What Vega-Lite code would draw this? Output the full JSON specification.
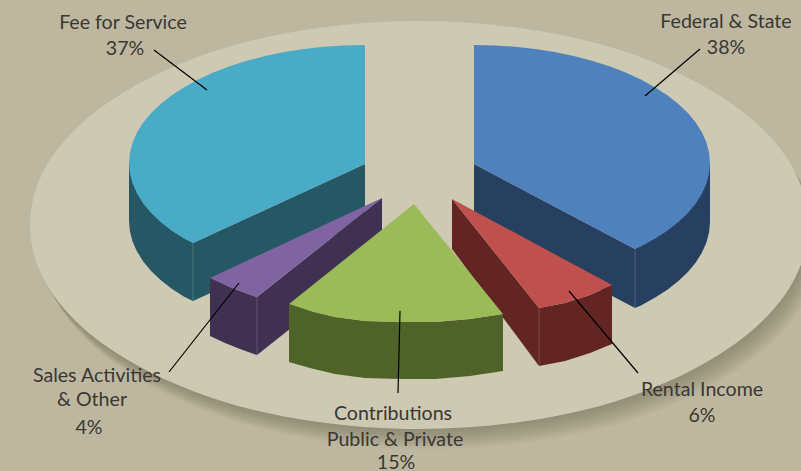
{"$schema":"https://vega.github.io/schema/vega-lite/v6.json","width":801,"height":471,"padding":0,"autosize":{"type":"none"},"background":"#bdb79f","view":{"stroke":null},
"datasets":{
"plate":[{"x":808,"y":225,"s":0},{"x":795,"y":278,"s":1},{"x":756,"y":327,"s":2},{"x":694,"y":369,"s":3},{"x":613.5,"y":402,"s":4},{"x":520,"y":422,"s":5},{"x":419,"y":429,"s":6},{"x":318,"y":422,"s":7},{"x":224.5,"y":402,"s":8},{"x":144,"y":369,"s":9},{"x":82,"y":327,"s":10},{"x":43,"y":278,"s":11},{"x":30,"y":225,"s":12},{"x":43,"y":172,"s":13},{"x":82,"y":123,"s":14},{"x":144,"y":81,"s":15},{"x":224.5,"y":48,"s":16},{"x":318,"y":28,"s":17},{"x":419,"y":21,"s":18},{"x":520,"y":28,"s":19},{"x":613.5,"y":48,"s":20},{"x":694,"y":81,"s":21},{"x":756,"y":123,"s":22},{"x":795,"y":172,"s":23}],
"faces":[
{"f":"federal inner","x":474,"y":164,"s":0},{"f":"federal inner","x":635,"y":249,"s":1},{"f":"federal inner","x":635,"y":308,"s":2},{"f":"federal inner","x":474,"y":223,"s":3},
{"f":"federal side","x":710,"y":163,"s":0},{"f":"federal side","x":710,"y":222,"s":1},{"f":"federal side","x":709.1,"y":232.3,"s":2},{"f":"federal side","x":706.4,"y":242.5,"s":3},{"f":"federal side","x":702,"y":252.5,"s":4},{"f":"federal side","x":695.8,"y":262.4,"s":5},{"f":"federal side","x":687.9,"y":271.9,"s":6},{"f":"federal side","x":678.4,"y":281,"s":7},{"f":"federal side","x":667.3,"y":289.7,"s":8},{"f":"federal side","x":654.8,"y":297.8,"s":9},{"f":"federal side","x":640.9,"y":305.4,"s":10},{"f":"federal side","x":635,"y":308,"s":11},{"f":"federal side","x":635,"y":249,"s":12},
{"f":"federal top","x":474,"y":164,"s":0},{"f":"federal top","x":474,"y":45,"s":1},{"f":"federal top","x":494.6,"y":45.4,"s":2},{"f":"federal top","x":515,"y":46.8,"s":3},{"f":"federal top","x":535.1,"y":49,"s":4},{"f":"federal top","x":554.7,"y":52.1,"s":5},{"f":"federal top","x":573.7,"y":56.1,"s":6},{"f":"federal top","x":592,"y":60.8,"s":7},{"f":"federal top","x":609.4,"y":66.3,"s":8},{"f":"federal top","x":625.7,"y":72.6,"s":9},{"f":"federal top","x":640.9,"y":79.6,"s":10},{"f":"federal top","x":654.8,"y":87.2,"s":11},{"f":"federal top","x":667.3,"y":95.3,"s":12},{"f":"federal top","x":678.4,"y":104,"s":13},{"f":"federal top","x":687.9,"y":113.1,"s":14},{"f":"federal top","x":695.8,"y":122.6,"s":15},{"f":"federal top","x":702,"y":132.5,"s":16},{"f":"federal top","x":706.4,"y":142.5,"s":17},{"f":"federal top","x":709.1,"y":152.7,"s":18},{"f":"federal top","x":710,"y":163,"s":19},{"f":"federal top","x":709.1,"y":173.3,"s":20},{"f":"federal top","x":706.4,"y":183.5,"s":21},{"f":"federal top","x":702,"y":193.5,"s":22},{"f":"federal top","x":695.8,"y":203.4,"s":23},{"f":"federal top","x":687.9,"y":212.9,"s":24},{"f":"federal top","x":678.4,"y":222,"s":25},{"f":"federal top","x":667.3,"y":230.7,"s":26},{"f":"federal top","x":654.8,"y":238.8,"s":27},{"f":"federal top","x":640.9,"y":246.4,"s":28},{"f":"federal top","x":635,"y":249,"s":29},
{"f":"fee inner","x":365,"y":164,"s":0},{"f":"fee inner","x":193,"y":243,"s":1},{"f":"fee inner","x":193,"y":301,"s":2},{"f":"fee inner","x":365,"y":222,"s":3},
{"f":"fee side","x":129,"y":163,"s":0},{"f":"fee side","x":129,"y":221,"s":1},{"f":"fee side","x":129.9,"y":231.3,"s":2},{"f":"fee side","x":132.6,"y":241.5,"s":3},{"f":"fee side","x":137,"y":251.5,"s":4},{"f":"fee side","x":143.2,"y":261.4,"s":5},{"f":"fee side","x":151.1,"y":270.9,"s":6},{"f":"fee side","x":160.6,"y":280,"s":7},{"f":"fee side","x":171.7,"y":288.7,"s":8},{"f":"fee side","x":184.2,"y":296.8,"s":9},{"f":"fee side","x":193,"y":301,"s":10},{"f":"fee side","x":193,"y":243,"s":11},
{"f":"fee top","x":365,"y":164,"s":0},{"f":"fee top","x":365,"y":45,"s":1},{"f":"fee top","x":344.4,"y":45.4,"s":2},{"f":"fee top","x":324,"y":46.8,"s":3},{"f":"fee top","x":303.9,"y":49,"s":4},{"f":"fee top","x":284.3,"y":52.1,"s":5},{"f":"fee top","x":265.3,"y":56.1,"s":6},{"f":"fee top","x":247,"y":60.8,"s":7},{"f":"fee top","x":229.6,"y":66.3,"s":8},{"f":"fee top","x":213.3,"y":72.6,"s":9},{"f":"fee top","x":198.1,"y":79.6,"s":10},{"f":"fee top","x":184.2,"y":87.2,"s":11},{"f":"fee top","x":171.7,"y":95.3,"s":12},{"f":"fee top","x":160.6,"y":104,"s":13},{"f":"fee top","x":151.1,"y":113.1,"s":14},{"f":"fee top","x":143.2,"y":122.6,"s":15},{"f":"fee top","x":137,"y":132.5,"s":16},{"f":"fee top","x":132.6,"y":142.5,"s":17},{"f":"fee top","x":129.9,"y":152.7,"s":18},{"f":"fee top","x":129,"y":163,"s":19},{"f":"fee top","x":129.9,"y":173.3,"s":20},{"f":"fee top","x":132.6,"y":183.5,"s":21},{"f":"fee top","x":137,"y":193.5,"s":22},{"f":"fee top","x":143.2,"y":203.4,"s":23},{"f":"fee top","x":151.1,"y":212.9,"s":24},{"f":"fee top","x":160.6,"y":222,"s":25},{"f":"fee top","x":171.7,"y":230.7,"s":26},{"f":"fee top","x":184.2,"y":238.8,"s":27},{"f":"fee top","x":193,"y":243,"s":28},
{"f":"sales inner","x":382,"y":198,"s":0},{"f":"sales inner","x":257,"y":297,"s":1},{"f":"sales inner","x":257,"y":355,"s":2},{"f":"sales inner","x":382,"y":256,"s":3},
{"f":"sales front","x":210,"y":278,"s":0},{"f":"sales front","x":225,"y":285,"s":1},{"f":"sales front","x":240,"y":291,"s":2},{"f":"sales front","x":257,"y":297,"s":3},{"f":"sales front","x":257,"y":355,"s":4},{"f":"sales front","x":240,"y":349,"s":5},{"f":"sales front","x":225,"y":343,"s":6},{"f":"sales front","x":210,"y":336,"s":7},
{"f":"sales top","x":382,"y":198,"s":0},{"f":"sales top","x":210,"y":278,"s":1},{"f":"sales top","x":225,"y":285,"s":2},{"f":"sales top","x":240,"y":291,"s":3},{"f":"sales top","x":257,"y":297,"s":4},
{"f":"rental inner","x":452,"y":199,"s":0},{"f":"rental inner","x":539,"y":308,"s":1},{"f":"rental inner","x":539,"y":366,"s":2},{"f":"rental inner","x":452,"y":249,"s":3},
{"f":"rental front","x":539,"y":308,"s":0},{"f":"rental front","x":565,"y":303,"s":1},{"f":"rental front","x":590,"y":295,"s":2},{"f":"rental front","x":612,"y":285,"s":3},{"f":"rental front","x":612,"y":344,"s":4},{"f":"rental front","x":590,"y":353,"s":5},{"f":"rental front","x":565,"y":361,"s":6},{"f":"rental front","x":539,"y":366,"s":7},
{"f":"rental top","x":452,"y":199,"s":0},{"f":"rental top","x":612,"y":285,"s":1},{"f":"rental top","x":590,"y":295,"s":2},{"f":"rental top","x":565,"y":303,"s":3},{"f":"rental top","x":539,"y":308,"s":4},
{"f":"contrib front","x":289,"y":304,"s":0},{"f":"contrib front","x":310,"y":311,"s":1},{"f":"contrib front","x":335,"y":317,"s":2},{"f":"contrib front","x":365,"y":321,"s":3},{"f":"contrib front","x":400,"y":322,"s":4},{"f":"contrib front","x":435,"y":322,"s":5},{"f":"contrib front","x":470,"y":319,"s":6},{"f":"contrib front","x":503,"y":314,"s":7},{"f":"contrib front","x":503,"y":371,"s":8},{"f":"contrib front","x":470,"y":376,"s":9},{"f":"contrib front","x":435,"y":379,"s":10},{"f":"contrib front","x":400,"y":379,"s":11},{"f":"contrib front","x":365,"y":378,"s":12},{"f":"contrib front","x":335,"y":374,"s":13},{"f":"contrib front","x":310,"y":368,"s":14},{"f":"contrib front","x":289,"y":362,"s":15},
{"f":"contrib top","x":414,"y":204,"s":0},{"f":"contrib top","x":289,"y":304,"s":1},{"f":"contrib top","x":310,"y":311,"s":2},{"f":"contrib top","x":335,"y":317,"s":3},{"f":"contrib top","x":365,"y":321,"s":4},{"f":"contrib top","x":400,"y":322,"s":5},{"f":"contrib top","x":435,"y":322,"s":6},{"f":"contrib top","x":470,"y":319,"s":7},{"f":"contrib top","x":503,"y":314,"s":8}
],
"edges":[
{"e":"federal","x":635,"y":249,"s":0},{"e":"federal","x":635,"y":308,"s":1},
{"e":"fee","x":193,"y":243,"s":0},{"e":"fee","x":193,"y":301,"s":1},
{"e":"sales","x":257,"y":297,"s":0},{"e":"sales","x":257,"y":355,"s":1},
{"e":"rental","x":539,"y":308,"s":0},{"e":"rental","x":539,"y":366,"s":1}
],
"leaders":[
{"l":"fee","x":154,"y":50,"s":0},{"l":"fee","x":207,"y":90,"s":1},
{"l":"federal","x":700,"y":49,"s":0},{"l":"federal","x":645,"y":96,"s":1},
{"l":"sales","x":169,"y":372,"s":0},{"l":"sales","x":239,"y":283,"s":1},
{"l":"contrib","x":400,"y":311,"s":0},{"l":"contrib","x":398,"y":393,"s":1},
{"l":"rental","x":569,"y":291,"s":0},{"l":"rental","x":638,"y":373,"s":1}
],
"labels":[
{"t":"Fee for Service","x":123,"y":29},{"t":"37%","x":125,"y":55},
{"t":"Federal & State","x":726,"y":28},{"t":"38%","x":726,"y":54},
{"t":"Sales Activities","x":97,"y":382},{"t":"& Other","x":92,"y":406},{"t":"4%","x":89,"y":434},
{"t":"Contributions","x":393,"y":420},{"t":"Public & Private","x":395,"y":446},{"t":"15%","x":396,"y":469},
{"t":"Rental Income","x":702,"y":396},{"t":"6%","x":702,"y":422}
]},
"encoding":{
"x":{"field":"x","type":"quantitative","axis":null,"scale":{"domain":[0,801],"nice":false,"zero":false}},
"y":{"field":"y","type":"quantitative","axis":null,"scale":{"domain":[0,471],"reverse":true,"nice":false,"zero":false}}
},
"layer":[
{"data":{"name":"plate"},"mark":{"type":"line","interpolate":"cardinal-closed","clip":true,"fill":"#5c5540","stroke":null,"opacity":0.035,"xOffset":12,"yOffset":20},"encoding":{"order":{"field":"s"}}},
{"data":{"name":"plate"},"mark":{"type":"line","interpolate":"cardinal-closed","clip":true,"fill":"#5c5540","stroke":null,"opacity":0.035,"xOffset":11,"yOffset":18},"encoding":{"order":{"field":"s"}}},
{"data":{"name":"plate"},"mark":{"type":"line","interpolate":"cardinal-closed","clip":true,"fill":"#5c5540","stroke":null,"opacity":0.035,"xOffset":10,"yOffset":16.5},"encoding":{"order":{"field":"s"}}},
{"data":{"name":"plate"},"mark":{"type":"line","interpolate":"cardinal-closed","clip":true,"fill":"#5c5540","stroke":null,"opacity":0.035,"xOffset":9,"yOffset":15},"encoding":{"order":{"field":"s"}}},
{"data":{"name":"plate"},"mark":{"type":"line","interpolate":"cardinal-closed","clip":true,"fill":"#5c5540","stroke":null,"opacity":0.035,"xOffset":8,"yOffset":13.5},"encoding":{"order":{"field":"s"}}},
{"data":{"name":"plate"},"mark":{"type":"line","interpolate":"cardinal-closed","clip":true,"fill":"#5c5540","stroke":null,"opacity":0.035,"xOffset":7,"yOffset":12},"encoding":{"order":{"field":"s"}}},
{"data":{"name":"plate"},"mark":{"type":"line","interpolate":"cardinal-closed","clip":true,"fill":"#5c5540","stroke":null,"opacity":0.035,"xOffset":6,"yOffset":10.5},"encoding":{"order":{"field":"s"}}},
{"data":{"name":"plate"},"mark":{"type":"line","interpolate":"cardinal-closed","clip":true,"fill":"#5c5540","stroke":null,"opacity":0.035,"xOffset":5,"yOffset":9},"encoding":{"order":{"field":"s"}}},
{"data":{"name":"plate"},"mark":{"type":"line","interpolate":"cardinal-closed","clip":true,"fill":"#5c5540","stroke":null,"opacity":0.035,"xOffset":4,"yOffset":7.5},"encoding":{"order":{"field":"s"}}},
{"data":{"name":"plate"},"mark":{"type":"line","interpolate":"cardinal-closed","clip":true,"fill":"#5c5540","stroke":null,"opacity":0.035,"xOffset":3,"yOffset":6},"encoding":{"order":{"field":"s"}}},
{"data":{"name":"plate"},"mark":{"type":"line","interpolate":"cardinal-closed","clip":true,"fill":"#5c5540","stroke":null,"opacity":0.04,"xOffset":2,"yOffset":4},"encoding":{"order":{"field":"s"}}},
{"data":{"name":"plate"},"mark":{"type":"line","interpolate":"cardinal-closed","clip":true,"fill":"#5c5540","stroke":null,"opacity":0.04,"xOffset":1,"yOffset":2},"encoding":{"order":{"field":"s"}}},
{"data":{"name":"plate"},"mark":{"type":"line","interpolate":"cardinal-closed","clip":true,"fill":"#cdc9b2","stroke":null},"encoding":{"order":{"field":"s"}}},
{"data":{"name":"faces"},"mark":{"type":"line","clip":true,"stroke":null},"encoding":{"order":{"field":"s"},"detail":{"field":"f"},"fill":{"field":"f","type":"nominal","legend":null,"scale":{"domain":["federal inner","federal side","federal top","fee inner","fee side","fee top","sales inner","sales front","sales top","rental inner","rental front","rental top","contrib front","contrib top"],"range":["#284060","#284060","#4f81bd","#255765","#255765","#4aabc7","#403152","#403152","#8064a2","#632523","#632523","#c0504d","#4f6228","#9bbb59"]}}}},
{"data":{"name":"edges"},"mark":{"type":"line","stroke":"#ffffff","strokeOpacity":0.22,"strokeWidth":0.8},"encoding":{"order":{"field":"s"},"detail":{"field":"e"}}},
{"data":{"name":"leaders"},"mark":{"type":"line","stroke":"#000000","strokeWidth":1.2},"encoding":{"order":{"field":"s"},"detail":{"field":"l"}}},
{"data":{"name":"labels"},"mark":{"type":"text","font":"Lato","fontSize":19.6,"fill":"#3a3733","align":"center","baseline":"alphabetic"},"encoding":{"text":{"field":"t"}}}
]}
